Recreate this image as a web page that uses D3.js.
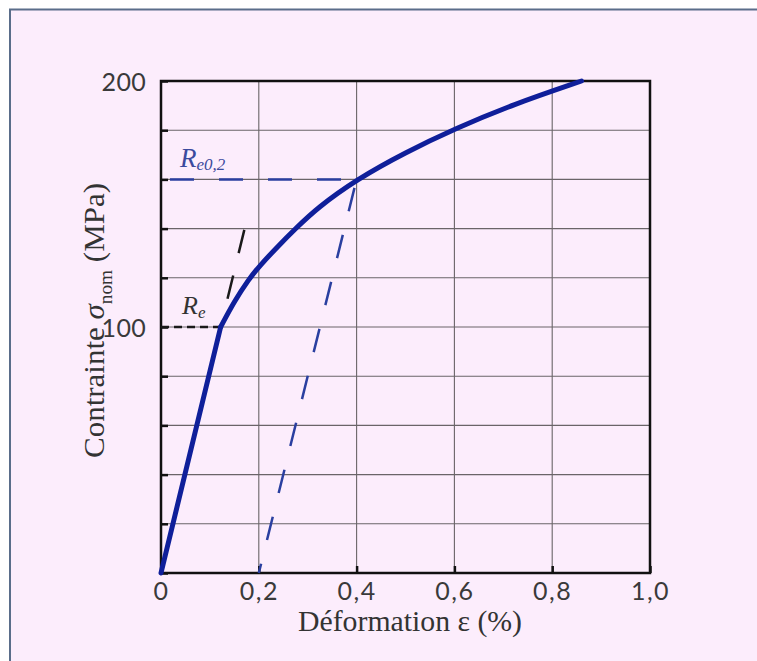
<!DOCTYPE html>
<html>
<head>
<meta charset="utf-8">
<script src="https://cdn.jsdelivr.net/npm/d3@7.9.0/dist/d3.min.js"></script>
<style>
  html, body { margin: 0; padding: 0; background: #fff; }
  svg { display: block; }
  .tick text { font-family: Lato, "Open Sans", sans-serif; fill: #3a3a3a; }
</style>
</head>
<body>
<svg id="chart" width="757" height="661"></svg>
<script>
// stress-strain curve (strain in %, stress in MPa)
const elasticStrain = [0, 0.122];
const elasticStress = [0, 100];
const plasticStrain = [0.122, 0.15, 0.18, 0.2, 0.24, 0.275, 0.32, 0.4, 0.5, 0.6, 0.72, 0.86];
const plasticStress = [100, 110.5, 119.5, 124.5, 133, 140, 148.5, 160, 171, 180.5, 190.5, 200];

// construction lines
const re = 100;            // Re
const re02 = 160;          // Re0,2
const offsetStrain = [0.2, 0.4];
const offsetStress = [0, 160];
const extStrain = [0.122, 0.171];
const extStress = [100, 140];

const xTicks = [0, 0.2, 0.4, 0.6, 0.8, 1.0];
const yTicks = [0, 20, 40, 60, 80, 100, 120, 140, 160, 180, 200];
const yLabels = [100, 200];

const svg = d3.select('#chart');

// pink frame of the screenshot
svg.append('rect')
  .attr('x', 10).attr('y', 10).attr('width', 760).attr('height', 660)
  .attr('fill', '#fcedfc');
svg.append('path')
  .attr('d', 'M10,670V9.5H760')
  .attr('fill', 'none').attr('stroke', '#5a6d8a').attr('stroke-width', 2);

const x = d3.scaleLinear().domain([0, 1]).range([161, 650]);
const y = d3.scaleLinear().domain([0, 200]).range([573, 81]);

// grid
const grid = svg.append('g').attr('stroke', '#6a6468').attr('stroke-width', 1.1);
grid.selectAll('line.v').data(xTicks.slice(1, -1)).join('line')
  .attr('x1', d => x(d)).attr('x2', d => x(d))
  .attr('y1', y(0)).attr('y2', y(200));
grid.selectAll('line.h').data(yTicks.slice(1, -1)).join('line')
  .attr('x1', x(0)).attr('x2', x(1))
  .attr('y1', d => y(d)).attr('y2', d => y(d));

// axes with inner ticks
const fmt = d => d === 0 ? '0' : d3.format('.1f')(d).replace('.', ',');
const xAxis = svg.append('g')
  .attr('transform', `translate(0,${y(0)})`)
  .call(d3.axisBottom(x).tickValues(xTicks).tickSize(-7).tickPadding(9).tickFormat(fmt));
const yAxis = svg.append('g')
  .attr('transform', `translate(${x(0)},0)`)
  .call(d3.axisLeft(y).tickValues(yTicks).tickSize(-7).tickPadding(15)
    .tickFormat(d => yLabels.includes(d) ? d : ''));
[xAxis, yAxis].forEach(a => {
  a.select('.domain').remove();
  a.selectAll('.tick line').attr('stroke', '#111').attr('stroke-width', 2.5);
  a.selectAll('.tick text').attr('font-size', 25);
});
xAxis.selectAll('.tick text').attr('letter-spacing', 1.5);
yAxis.selectAll('.tick text').attr('dy', '0.36em').attr('letter-spacing', 0.3);

// frame of the plot
svg.append('rect')
  .attr('x', x(0)).attr('y', y(200))
  .attr('width', x(1) - x(0)).attr('height', y(0) - y(200))
  .attr('fill', 'none').attr('stroke', '#111').attr('stroke-width', 2.5);

const line = d3.line().x(d => x(d[0])).y(d => y(d[1]));

// black dashed: Re level and elastic extension
svg.append('path')
  .attr('d', line([[0, re], [elasticStrain[1], re]]))
  .attr('stroke', '#1a1a1a').attr('stroke-width', 2.5).attr('fill', 'none')
  .attr('stroke-dasharray', '8,5');
svg.append('path')
  .attr('d', line(d3.zip(extStrain, extStress)))
  .attr('stroke', '#1a1a1a').attr('stroke-width', 2.5).attr('fill', 'none')
  .attr('stroke-dasharray', '0,29,24,23,24,20');

// blue dashed: Re0,2 level and 0.2 % offset line
svg.append('path')
  .attr('d', line([[0, re02], [0.4, re02]]))
  .attr('stroke', '#2a3fa0').attr('stroke-width', 2.5).attr('fill', 'none')
  .attr('stroke-dasharray', '24,25').attr('stroke-dashoffset', 40);
svg.append('path')
  .attr('d', line(d3.zip(offsetStrain, offsetStress)))
  .attr('stroke', '#2a3fa0').attr('stroke-width', 2.5).attr('fill', 'none')
  .attr('stroke-dasharray', '24,24.4').attr('stroke-dashoffset', 14.4);

// main curve: straight elastic part, smooth plastic part
svg.append('path')
  .attr('d', line(d3.zip(elasticStrain, elasticStress)))
  .attr('stroke', '#0f1f9a').attr('stroke-width', 5).attr('fill', 'none')
  .attr('stroke-linecap', 'round');
const smooth = d3.line().curve(d3.curveBasis).x(d => x(d[0])).y(d => y(d[1]));
svg.append('path')
  .attr('d', smooth(d3.zip(plasticStrain, plasticStress)))
  .attr('stroke', '#0f1f9a').attr('stroke-width', 5).attr('fill', 'none')
  .attr('stroke-linecap', 'round');

// annotations
const serif = '"Liberation Serif", "DejaVu Serif", serif';
const t1 = svg.append('text').attr('x', 180).attr('y', 167)
  .attr('font-family', serif).attr('font-style', 'italic').attr('font-size', 27)
  .attr('fill', '#3b4a9e');
t1.append('tspan').text('R');
t1.append('tspan').attr('font-size', 17).attr('dy', 3).text('e0,2');

const t2 = svg.append('text').attr('x', 182).attr('y', 314)
  .attr('font-family', serif).attr('font-style', 'italic').attr('font-size', 26)
  .attr('fill', '#333');
t2.append('tspan').text('R');
t2.append('tspan').attr('font-size', 17).attr('dy', 4).text('e');

// axis titles
svg.append('text')
  .attr('x', 298).attr('y', 631)
  .attr('textLength', 224).attr('lengthAdjust', 'spacingAndGlyphs')
  .attr('font-family', serif).attr('font-size', 29).attr('fill', '#333')
  .text('Déformation ε (%)');

const yt = svg.append('text')
  .attr('transform', 'translate(104,458) rotate(-90)')
  .attr('textLength', 275).attr('lengthAdjust', 'spacingAndGlyphs')
  .attr('font-family', serif).attr('font-size', 29).attr('fill', '#333');
yt.append('tspan').text('Contrainte ');
yt.append('tspan').attr('font-style', 'italic').text('σ');
yt.append('tspan').attr('font-size', 18).attr('dy', 8).text('nom');
yt.append('tspan').attr('dy', -8).text(' (MPa)');
</script>
</body>
</html>
